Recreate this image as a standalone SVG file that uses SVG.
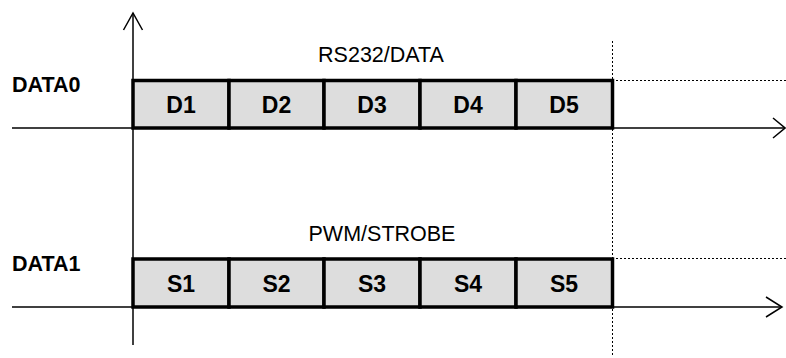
<svg xmlns="http://www.w3.org/2000/svg" width="786" height="358" viewBox="0 0 786 358">
<style>
.axis{stroke:#000;stroke-width:1.5;fill:none}
.head{stroke:#000;stroke-width:1.5;fill:none;stroke-linejoin:miter}
.dot{stroke:#000;stroke-width:1;stroke-dasharray:2 2;fill:none}
.cell{fill:#dddddd;stroke:#000;stroke-width:3.5}
.lab{font-family:"Liberation Sans",Arial,sans-serif;font-size:21.5px;font-weight:bold;fill:#000}
.cap{font-family:"Liberation Sans",Arial,sans-serif;font-size:21.5px;fill:#000;text-anchor:middle}
.cl{font-family:"Liberation Sans",Arial,sans-serif;font-size:23px;font-weight:bold;fill:#000;text-anchor:middle}
</style>
<rect width="786" height="358" fill="#fff"/>
<g id="connectors">
<line class="axis" x1="133" y1="13" x2="133" y2="345"/>
<polyline class="head" points="123.5,30 133,13 142.5,30"/>
<line class="axis" x1="12" y1="128" x2="785" y2="128"/>
<polyline class="head" points="773,118 785,128 773,138"/>
<line class="axis" x1="12" y1="307" x2="782" y2="307"/>
<polyline class="head" points="766,297 782,307 766,317"/>
<line class="dot" x1="612.5" y1="41" x2="612.5" y2="357"/>
<line class="dot" x1="612" y1="80.5" x2="786" y2="80.5"/>
<line class="dot" x1="612" y1="258.5" x2="786" y2="258.5"/>
</g>
<g id="labels">
<text class="lab" x="12" y="92">DATA0</text>
<text class="lab" x="12" y="271">DATA1</text>
<text class="cap" x="381" y="62">RS232/DATA</text>
<text class="cap" x="382" y="241">PWM/STROBE</text>
</g>
<g id="D1"><rect class="cell" x="133" y="80.5" width="96" height="47.5"/><text class="cl" x="181" y="112.5">D1</text></g>
<g id="D2"><rect class="cell" x="229" y="80.5" width="95" height="47.5"/><text class="cl" x="276.5" y="112.5">D2</text></g>
<g id="D3"><rect class="cell" x="324" y="80.5" width="96" height="47.5"/><text class="cl" x="372" y="112.5">D3</text></g>
<g id="D4"><rect class="cell" x="420" y="80.5" width="96" height="47.5"/><text class="cl" x="468" y="112.5">D4</text></g>
<g id="D5"><rect class="cell" x="516" y="80.5" width="96.5" height="47.5"/><text class="cl" x="564" y="112.5">D5</text></g>
<g id="S1"><rect class="cell" x="133" y="259" width="96" height="48"/><text class="cl" x="181" y="291.5">S1</text></g>
<g id="S2"><rect class="cell" x="229" y="259" width="95" height="48"/><text class="cl" x="276.5" y="291.5">S2</text></g>
<g id="S3"><rect class="cell" x="324" y="259" width="96" height="48"/><text class="cl" x="372" y="291.5">S3</text></g>
<g id="S4"><rect class="cell" x="420" y="259" width="96" height="48"/><text class="cl" x="468" y="291.5">S4</text></g>
<g id="S5"><rect class="cell" x="516" y="259" width="96.5" height="48"/><text class="cl" x="564" y="291.5">S5</text></g>
</svg>
